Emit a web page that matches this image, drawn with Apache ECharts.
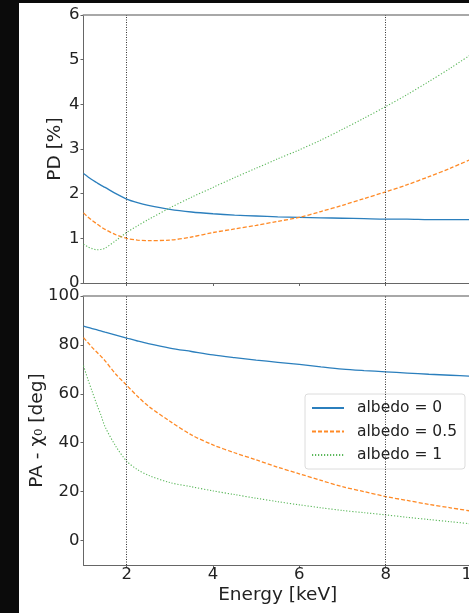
<!DOCTYPE html>
<html>
<head>
<meta charset="utf-8">
<script src="https://cdn.jsdelivr.net/npm/echarts@6/dist/echarts.min.js"></script>
<style>
html,body{margin:0;padding:0;background:#0b0b0b;width:469px;height:613px;overflow:hidden;}
#c{position:absolute;left:19px;top:3px;width:450px;height:610px;background:#fff;}
</style>
</head>
<body>
<div id="c"></div>
<script>
var energy = [1,1.1,1.2,1.3,1.4,1.5,1.75,2,2.25,2.5,3,3.5,4,4.5,5,5.5,6,6.5,7,7.5,8,8.5,9,9.5,10];
var seriesNames = ['albedo = 0','albedo = 0.5','albedo = 1'];
var pdAlb0  = [2.45,2.38,2.31,2.25,2.19,2.14,2.00,1.88,1.80,1.74,1.65,1.59,1.55,1.52,1.50,1.48,1.47,1.46,1.45,1.44,1.43,1.43,1.42,1.42,1.42];
var pdAlb05 = [1.57,1.48,1.40,1.33,1.26,1.20,1.08,1.00,0.96,0.95,0.96,1.03,1.13,1.21,1.29,1.38,1.47,1.60,1.74,1.89,2.04,2.20,2.38,2.57,2.78];
var pdAlb1  = [0.87,0.81,0.77,0.745,0.75,0.78,0.95,1.13,1.28,1.42,1.68,1.92,2.14,2.36,2.57,2.78,2.98,3.20,3.44,3.69,3.95,4.22,4.51,4.81,5.13];
var paAlb0  = [87.7,87.2,86.7,86.2,85.7,85.2,84.0,82.8,81.6,80.5,78.7,77.3,75.9,74.8,73.8,72.9,72.0,71.0,70.1,69.5,69.0,68.5,68.0,67.6,67.2];
var paAlb05 = [83.0,81.0,79.0,77.2,75.4,73.5,68.0,63.5,59.0,55.0,48.8,43.2,39.1,35.9,33.0,30.0,27.3,24.6,22.0,20.0,18.0,16.4,14.8,13.4,12.0];
var paAlb1  = [71.5,66.0,61.0,56.0,51.5,46.5,38.5,32.5,29.0,26.7,23.7,22.0,20.3,18.8,17.3,15.9,14.6,13.4,12.3,11.4,10.5,9.5,8.6,7.7,6.8];
var xTicks = [2,4,6,8,10];
var paTicks = [0,20,40,60,80,100];
var refLines = [2,8];

function pairs(v){ return energy.map(function(e,i){ return [e, v[i]]; }); }

var colors = ['#2b7fbd','#ff8a26','#5cb85c'];
var lineTypes = ['solid',[4,2],[1.2,1.8]];
var lineWidths = [1.3,1.3,1.1];
var txt = '#222';
var spine = '#666';

function mkSeries(idx, vals, gi){
  var s = {
    name: seriesNames[idx], type:'line', xAxisIndex: gi, yAxisIndex: gi,
    data: pairs(vals), symbol:'none', smooth:0.3,
    lineStyle:{color:colors[idx], width:lineWidths[idx], type:lineTypes[idx]},
    itemStyle:{color:colors[idx]}, z: 3
  };
  if (idx === 0) {
    s.markLine = {
      silent:true, symbol:['none','none'], label:{show:false},
      lineStyle:{color:'#333', width:1, type:[1,1.5]},
      data: refLines.map(function(x){ return {xAxis:x}; })
    };
  }
  return s;
}

function xBottom(gi, showLabels){
  return {
    type:'value', gridIndex:gi, min:1, max:10, position:'bottom',
    axisLine:{show:true, onZero:false, lineStyle:{color:spine, width:1}},
    axisTick:{show:true, length:3, lineStyle:{color:spine}, customValues: xTicks},
    axisLabel:{show:showLabels, color:txt, fontSize:16.5, fontFamily:'DejaVu Sans', margin:1, customValues: xTicks},
    splitLine:{show:false},
    name: showLabels ? 'Energy [keV]' : '', nameLocation:'middle', nameGap:21, nameMoveOverlap:false,
    nameTextStyle:{color:txt, fontSize:18.5, fontFamily:'DejaVu Sans', verticalAlign:'top'}
  };
}
function xTop(gi){
  return {
    type:'value', gridIndex:gi, min:1, max:10, position:'top',
    axisLine:{show:true, onZero:false, lineStyle:{color:'#a8a8a8', width:2}},
    axisTick:{show:false}, axisLabel:{show:false}, splitLine:{show:false}
  };
}

var chart = echarts.init(document.getElementById('c'), null, {renderer:'canvas'});
chart.setOption({
  animation:false,
  backgroundColor:'#fff',
  grid:[
    {left:64.5, top:12, width:388.5, height:268, containLabel:false, outerBoundsMode:'none'},
    {left:64.5, top:293, width:388.5, height:269, containLabel:false, outerBoundsMode:'none'}
  ],
  xAxis:[ xBottom(0,false), xBottom(1,true), xTop(0), xTop(1) ],
  yAxis:[
    {type:'value', gridIndex:0, min:0, max:6, interval:1,
     axisLine:{show:true, lineStyle:{color:spine}}, axisTick:{show:true, length:3, lineStyle:{color:spine}},
     axisLabel:{color:txt, fontSize:16.5, fontFamily:'DejaVu Sans', margin:4},
     splitLine:{show:false},
     name:'PD [%]', nameLocation:'middle', nameGap:19, nameRotate:90, nameMoveOverlap:false,
     nameTextStyle:{color:txt, fontSize:18.5, fontFamily:'DejaVu Sans'}},
    {type:'value', gridIndex:1, min:-10, max:100,
     axisLine:{show:true, lineStyle:{color:spine}}, axisTick:{show:true, length:3, lineStyle:{color:spine}, customValues: paTicks},
     axisLabel:{color:txt, fontSize:16.5, fontFamily:'DejaVu Sans', margin:4, customValues: paTicks},
     splitLine:{show:false},
     name:'PA - χ₀ [deg]', nameLocation:'middle', nameGap:37, nameRotate:90, nameMoveOverlap:false,
     nameTextStyle:{color:txt, fontSize:18.5, fontFamily:'DejaVu Sans'}}
  ],
  legend:{
    orient:'vertical', left:286, top:391,
    data: seriesNames,
    backgroundColor:'rgba(255,255,255,0.85)', borderColor:'#dcdcdc', borderWidth:1, borderRadius:3,
    padding:[6,8,6,6], itemWidth:32, itemHeight:14, itemGap:7.5,
    itemStyle:{opacity:0},
    textStyle:{color:txt, fontSize:15.5, fontFamily:'DejaVu Sans', padding:[0,0,0,8]}
  },
  series:[
    mkSeries(0,pdAlb0,0), mkSeries(1,pdAlb05,0), mkSeries(2,pdAlb1,0),
    mkSeries(0,paAlb0,1), mkSeries(1,paAlb05,1), mkSeries(2,paAlb1,1)
  ]
});
</script>
</body>
</html>
